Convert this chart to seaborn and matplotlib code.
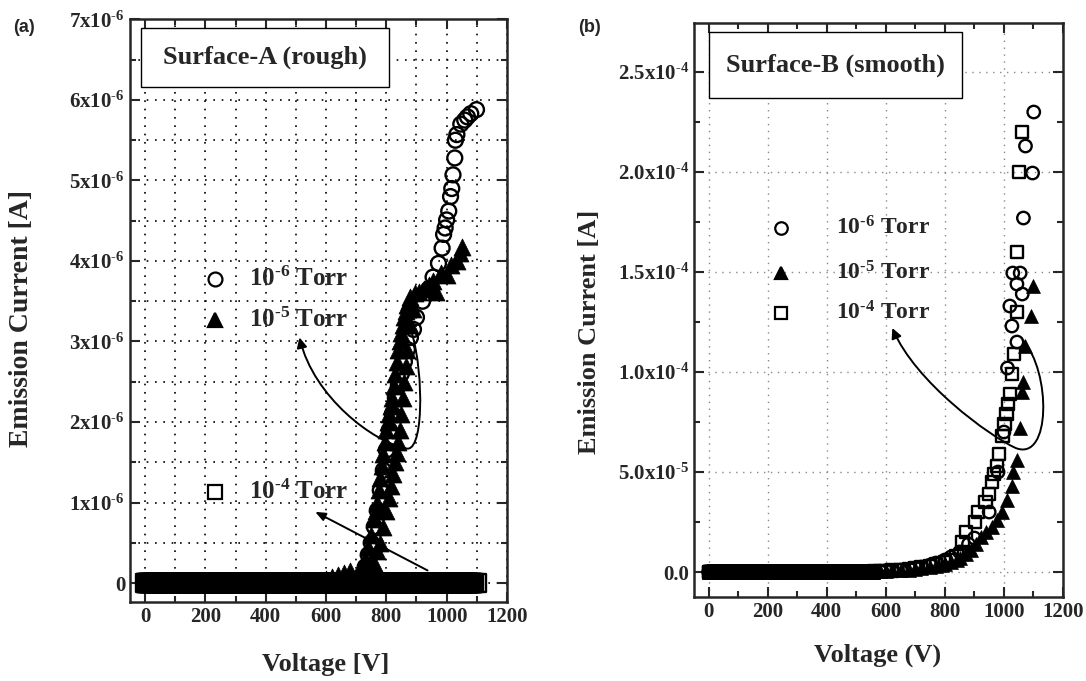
import numpy as np
import pandas as pd
import seaborn as sns
import matplotlib.pyplot as plt
from matplotlib.path import Path
from matplotlib.patches import FancyArrowPatch, Rectangle

sns.set_style('ticks')
plt.rcParams['font.family'] = ['Liberation Serif', 'DejaVu Serif']
plt.rcParams['font.weight'] = 'bold'
plt.rcParams['mathtext.fontset'] = 'custom'
plt.rcParams['mathtext.rm'] = 'Liberation Serif:bold'
plt.rcParams['mathtext.it'] = 'Liberation Serif:bold'
plt.rcParams['mathtext.bf'] = 'Liberation Serif:bold'
plt.rcParams['xtick.direction'] = 'in'
plt.rcParams['ytick.direction'] = 'in'

# ---------------- panel (a): Surface-A (rough), current in 1e-6 A
a_flat_v = list(range(0, 700, 2))           # voltage steps where current ~ 0
a_flat_i = [0.0] * len(a_flat_v)

a6_v = [700, 710, 720, 730, 740, 750, 760, 770, 780, 790, 800, 810, 820, 830, 840, 850,
        860, 870, 880, 890, 900, 920, 940, 955, 973, 985, 990, 995, 1000, 1007, 1013,
        1017, 1021, 1027, 1029, 1034, 1047, 1060, 1069, 1080, 1099]
a6_i = [0.02, 0.05, 0.1, 0.2, 0.35, 0.5, 0.7, 0.9, 1.15, 1.4, 1.65, 1.9, 2.1, 2.3, 2.45, 2.6,
        2.75, 2.9, 3.05, 3.15, 3.3, 3.5, 3.65, 3.8, 3.97, 4.16, 4.33, 4.41, 4.51, 4.62, 4.8,
        4.9, 5.07, 5.28, 5.5, 5.57, 5.7, 5.75, 5.79, 5.83, 5.88]

a5_v = [600, 620, 640, 660, 680, 690, 700, 710, 720, 730, 740, 750, 760, 765, 770, 775, 780,
        785, 790, 795, 800, 805, 810, 815, 820, 825, 830, 835, 840, 845, 850, 855, 860, 865,
        870, 875, 880, 895, 910, 925, 940, 955, 966, 980, 1000, 1015, 1034, 1045, 1051,
        720, 730, 740, 750, 760, 770, 780, 790, 800, 808, 815, 822, 830, 835, 840, 845, 850,
        855, 860, 865, 870, 880, 890]
a5_i = [0.05, 0.08, 0.1, 0.12, 0.15, 0.05, 0.08, 0.12, 0.2, 0.3, 0.45, 0.6, 0.8, 0.9, 1.0,
        1.15, 1.3, 1.45, 1.6, 1.75, 1.9, 2.0, 2.1, 2.2, 2.3, 2.45, 2.6, 2.75, 2.9, 3.0, 3.1,
        3.2, 3.3, 3.38, 3.45, 3.5, 3.55, 3.6, 3.62, 3.65, 3.7, 3.75, 3.62, 3.85, 3.83, 3.95,
        4.0, 4.1, 4.18,
        0.15, 0.22, 0.2, 0.28, 0.25, 0.4, 0.5, 0.7, 0.9, 1.05, 1.2, 1.35, 1.5, 1.62, 1.75,
        1.9, 2.1, 2.3, 2.5, 2.7, 2.9, 3.2, 3.4]

a4_v = list(range(0, 1092, 2)) + [1100]
a4_i = [0.0] * len(a4_v)

# ---------------- panel (b): Surface-B (smooth), current in 1e-4 A
b_flat_v = list(range(0, 560, 2))
b_flat_i = [0.0] * len(b_flat_v)

b6_v = [560, 580, 600, 620, 650, 680, 700, 720, 750, 770, 800, 820, 850, 880, 900, 950, 980,
        1000, 1012, 1020, 1027, 1030, 1044, 1044, 1055, 1062, 1066, 1073, 1097, 1101]
b6_i = [0.003, 0.004, 0.006, 0.008, 0.01, 0.015, 0.02, 0.025, 0.035, 0.045, 0.06, 0.075,
        0.1, 0.14, 0.17, 0.3, 0.5, 0.7, 1.02, 1.33, 1.23, 1.495, 1.15, 1.44, 1.495, 1.39,
        1.77, 2.13, 1.995, 2.30]

b5_v = [560, 580, 600, 620, 650, 680, 700, 720, 750, 770, 790, 800, 820, 840, 850, 870, 888,
        905, 924, 940, 959, 975, 995, 1010, 1027, 1030, 1044, 1055, 1062, 1066, 1073, 1090, 1097]
b5_i = [0.003, 0.004, 0.006, 0.008, 0.01, 0.012, 0.015, 0.02, 0.025, 0.03, 0.035, 0.04,
        0.05, 0.06, 0.07, 0.09, 0.11, 0.14, 0.175, 0.2, 0.225, 0.26, 0.30, 0.36, 0.43, 0.50,
        0.56, 0.72, 0.90, 0.95, 1.13, 1.28, 1.43]

b4_v = [560, 580, 600, 620, 650, 680, 700, 720, 750, 770, 800, 820, 840, 864, 860, 871, 902,
        913, 938, 949, 959, 966, 977, 984, 995, 1002, 1009, 1013, 1020, 1027, 1034, 1044,
        1044, 1051, 1062]
b4_i = [0.003, 0.004, 0.006, 0.008, 0.01, 0.015, 0.02, 0.025, 0.03, 0.04, 0.05, 0.06, 0.08,
        0.10, 0.15, 0.20, 0.25, 0.30, 0.35, 0.39, 0.45, 0.49, 0.53, 0.59, 0.68, 0.74, 0.79,
        0.84, 0.89, 0.99, 1.09, 1.30, 1.60, 2.00, 2.20]

sup = '$^{\\text{-}%d}$'
a_yticks = [0, 1, 2, 3, 4, 5, 6, 7]
a_ylabels = ['0'] + ['%dx10' % k + sup % 6 for k in a_yticks[1:]]
b_yticks = [0, 0.5, 1.0, 1.5, 2.0, 2.5]
b_ylabels = ['0.0', '5.0x10' + sup % 5, '1.0x10' + sup % 4, '1.5x10' + sup % 4,
             '2.0x10' + sup % 4, '2.5x10' + sup % 4]
x_ticks = [0, 200, 400, 600, 800, 1000, 1200]

open_kw = dict(facecolor='none', edgecolor='black', linewidth=1.7, legend=False)
fill_kw = dict(color='black', edgecolor='black', linewidth=0.5, legend=False)


def frame(v, i, scale):
    return pd.DataFrame({'V': v, 'I': np.array(i) * scale})


fig = plt.figure(figsize=(10.86, 6.81), dpi=100)
ax1 = fig.add_axes([0.1197, 0.116, 0.3471, 0.8561])
ax2 = fig.add_axes([0.639, 0.1233, 0.3398, 0.8429])

# panel a markers
s = 115
sns.scatterplot(data=frame(a4_v, a4_i, 1e-6), x='V', y='I', marker='s', s=165, ax=ax1, **open_kw)
sns.scatterplot(data=frame(a_flat_v + a6_v, a_flat_i + a6_i, 1e-6), x='V', y='I',
                marker='o', s=s, ax=ax1, **open_kw)
sns.scatterplot(data=frame(a_flat_v + a5_v, a_flat_i + a5_i, 1e-6), x='V', y='I',
                marker='^', s=150, ax=ax1, **fill_kw)

# panel b markers
s2 = 80
sns.scatterplot(data=frame(b_flat_v + b5_v, b_flat_i + b5_i, 1e-4), x='V', y='I',
                marker='^', s=100, ax=ax2, **fill_kw)
sns.scatterplot(data=frame(b_flat_v + b6_v, b_flat_i + b6_i, 1e-4), x='V', y='I',
                marker='o', s=s2, ax=ax2, **open_kw)
sns.scatterplot(data=frame(b_flat_v + b4_v, b_flat_i + b4_i, 1e-4), x='V', y='I',
                marker='s', s=s2, ax=ax2, **open_kw)

for ax in (ax1, ax2):
    ax.set_xlim(-50, 1200)
    ax.set_xticks(x_ticks)
    ax.set_xticks(range(100, 1200, 200), minor=True)
    ax.tick_params(which='both', top=True, right=True, width=1.5)
    ax.tick_params(which='major', length=7, labelsize=15)
    ax.tick_params(which='minor', length=4)
    for sp in ax.spines.values():
        sp.set_linewidth(1.8)
    ax.set_xlabel('')
    ax.set_ylabel('')

ax1.set_ylim(-0.236e-6, 7.006e-6)
ax1.set_yticks(np.array(a_yticks) * 1e-6)
ax1.set_yticklabels(a_ylabels)
ax1.set_yticks(np.arange(0.5, 7, 1) * 1e-6, minor=True)
ax1.grid(True, which='both', color='black', linestyle=(0, (1, 4)), linewidth=1.2)
ax1.set_axisbelow(True)

ax2.set_ylim(-0.125e-4, 2.745e-4)
ax2.set_yticks(np.array(b_yticks) * 1e-4)
ax2.set_yticklabels(b_ylabels)
ax2.set_yticks(np.arange(0.25, 2.75, 0.5) * 1e-4, minor=True)
ax2.grid(True, which='major', color='#888888', linestyle=(0, (1, 4)), linewidth=1.0)
ax2.set_axisbelow(True)
for lab in ax1.get_xticklabels() + ax1.get_yticklabels() + ax2.get_xticklabels() + ax2.get_yticklabels():
    lab.set_fontweight('bold')

# title boxes
ax1.add_patch(Rectangle((0.029, 0.883), 0.658, 0.102, transform=ax1.transAxes,
                        facecolor='white', edgecolor='black', linewidth=1.0, zorder=5))
ax1.text(0.358, 0.934, 'Surface-A (rough)', transform=ax1.transAxes, ha='center', va='center',
         fontsize=19, fontweight='bold', zorder=6)
ax2.add_patch(Rectangle((0.040, 0.869), 0.687, 0.115, transform=ax2.transAxes,
                        facecolor='white', edgecolor='black', linewidth=1.0, zorder=5))
ax2.text(0.383, 0.926, 'Surface-B (smooth)', transform=ax2.transAxes, ha='center', va='center',
         fontsize=19, fontweight='bold', zorder=6)

# legends
leg_a = [('o', 'none', 0.554, '10' + sup % 6 + ' Torr'), ('^', 'black', 0.484, '10' + sup % 5 + ' Torr'),
         ('s', 'none', 0.189, '10' + sup % 4 + ' Torr')]
for m, fc, y, t in leg_a:
    ax1.plot([0.226], [y], marker=m, markersize=10, markerfacecolor=fc, markeredgecolor='black',
             markeredgewidth=1.6, transform=ax1.transAxes, linestyle='none')
    ax1.text(0.315, y, t, transform=ax1.transAxes, va='center', fontsize=18, fontweight='bold')

leg_b = [('o', 'none', 0.643, '10' + sup % 6 + ' Torr'), ('^', 'black', 0.564, '10' + sup % 5 + ' Torr'),
         ('s', 'none', 0.495, '10' + sup % 4 + ' Torr')]
for m, fc, y, t in leg_b:
    ax2.plot([0.237], [y], marker=m, markersize=9, markerfacecolor=fc, markeredgecolor='black',
             markeredgewidth=1.6, transform=ax2.transAxes, linestyle='none')
    ax2.text(0.385, y, t, transform=ax2.transAxes, va='center', fontsize=17, fontweight='bold')

# arrows
hook_a = Path([(885, 3.1e-6), (925, 2.6e-6), (925, 1.55e-6), (860, 1.68e-6),
               (760, 1.75e-6), (560, 2.3e-6), (512, 3.05e-6)],
              [Path.MOVETO] + [Path.CURVE4] * 6)
ax1.add_patch(FancyArrowPatch(path=hook_a, arrowstyle='-|>,head_length=6,head_width=3',
                              color='black', linewidth=1.4, zorder=7))
ax1.annotate('', xy=(556, 0.9e-6), xytext=(945, 0.14e-6),
             arrowprops=dict(arrowstyle='-|>,head_length=0.6,head_width=0.25', color='black', lw=1.4))

hook_b = Path([(1064, 1.16e-4), (1160, 1.0e-4), (1160, 0.55e-4), (1040, 0.62e-4),
               (950, 0.68e-4), (700, 0.95e-4), (622, 1.22e-4)],
              [Path.MOVETO] + [Path.CURVE4] * 6)
ax2.add_patch(FancyArrowPatch(path=hook_b, arrowstyle='-|>,head_length=6,head_width=3',
                              color='black', linewidth=1.4, zorder=7))

# labels
fig.text(22 / 1086, 1 - 318 / 681, 'Emission Current [A]', rotation=90, ha='center', va='center',
         fontsize=20, fontweight='bold')
fig.text(590 / 1086, 1 - 332 / 681, 'Emission Current [A]', rotation=90, ha='center', va='center',
         fontsize=19, fontweight='bold')
fig.text(326 / 1086, 1 - 664 / 681, 'Voltage [V]', ha='center', va='center', fontsize=19,
         fontweight='bold')
fig.text(878 / 1086, 1 - 655 / 681, 'Voltage (V)', ha='center', va='center', fontsize=19,
         fontweight='bold')
fig.text(24 / 1086, 1 - 27 / 681, '(a)', ha='center', va='center', fontsize=13,
         fontweight='bold', family='Liberation Sans')
fig.text(590 / 1086, 1 - 28 / 681, '(b)', ha='center', va='center', fontsize=13,
         fontweight='bold', family='Liberation Sans')

fig.savefig('out.png', dpi=100, facecolor='white')
